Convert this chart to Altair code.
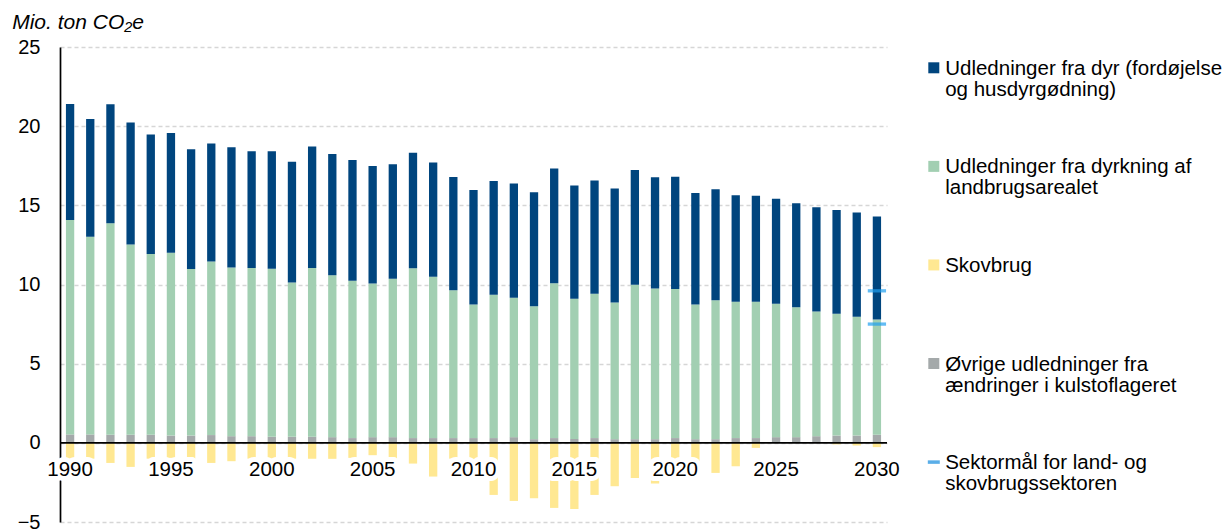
import altair as alt
import pandas as pd

FONT = "Liberation Sans"

years = list(range(1990, 2031))

# Udledninger fra dyr (fordøjelse og husdyrgødning)
dyr = [7.32, 7.43, 7.52, 7.71, 7.55, 7.56, 7.56, 7.45, 7.60, 7.36,
       7.41, 7.62, 7.66, 7.66, 7.64, 7.43, 7.24, 7.29, 7.22, 7.16,
       7.24, 7.17, 7.22, 7.19, 7.24, 7.15, 7.15, 7.20, 7.25, 7.04,
       7.09, 7.05, 7.00, 6.72, 6.70, 6.63, 6.57, 6.58, 6.55, 6.58,
       6.51]
# Udledninger fra dyrkning af landbrugsarealet
dyrkning = [13.55, 12.49, 13.36, 12.01, 11.42, 11.55, 10.52, 10.96, 10.65, 10.63,
            10.62, 9.75, 10.67, 10.22, 9.93, 9.70, 10.00, 10.73, 10.19, 9.33,
            8.43, 9.06, 8.80, 8.40, 9.78, 8.85, 9.12, 8.63, 9.75, 9.51,
            9.42, 8.50, 8.78, 8.61, 8.61, 8.42, 8.20, 7.88, 7.70, 7.50,
            7.28]
# Skovbrug
skovbrug = [-1.00, -1.00, -1.27, -1.52, -1.00, -0.95, -1.00, -1.27, -1.16, -1.00,
            -1.00, -1.00, -1.01, -1.01, -0.95, -0.78, -1.00, -1.31, -2.13, -1.00,
            -1.10, -3.29, -3.67, -3.50, -4.11, -4.18, -3.29, -2.74, -2.22, -2.57,
            -1.50, -1.30, -1.90, -1.48, -0.32, 0.00, 0.00, 0.00, -0.10, -0.17,
            -0.27]
# Øvrige udledninger fra ændringer i kulstoflageret
ovrige = [0.53, 0.53, 0.51, 0.51, 0.51, 0.46, 0.46, 0.49, 0.42, 0.42,
          0.38, 0.38, 0.38, 0.36, 0.30, 0.36, 0.36, 0.30, 0.30, 0.30,
          0.30, 0.30, 0.36, 0.23, 0.30, 0.25, 0.30, 0.23, 0.23, 0.23,
          0.30, 0.23, 0.23, 0.30, 0.30, 0.36, 0.36, 0.42, 0.46, 0.46,
          0.51]

# Sektormål for land- og skovbrugssektoren (2030)
target_years = [2030, 2030]
target_values = [9.6, 7.5]

label_years = [1990, 1995, 2000, 2005, 2010, 2015, 2020, 2025, 2030]

series_names = [
    "Øvrige udledninger fra ændringer i kulstoflageret",
    "Udledninger fra dyrkning af landbrugsarealet",
    "Udledninger fra dyr (fordøjelse og husdyrgødning)",
    "Skovbrug",
]
series_colors = ["#a4a9aa", "#a2cfb2", "#00457e", "#ffe892"]
target_color = "#1f9ff0"

legend_entries = [
    "Udledninger fra dyr (fordøjelse\nog husdyrgødning)",
    "Udledninger fra dyrkning af\nlandbrugsarealet",
    "Skovbrug",
    "Øvrige udledninger fra\nændringer i kulstoflageret",
    "Sektormål for land- og\nskovbrugssektoren",
]
legend_colors = ["#00457e", "#a2cfb2", "#ffe892", "#a4a9aa", "#5aaee8"]
legend_kinds = ["square", "square", "square", "square", "line"]

# ---- tables ----
rows = []
for i, y in enumerate(years):
    for k, (name, vals) in enumerate(zip(series_names, [ovrige, dyrkning, dyr, skovbrug])):
        rows.append({"year": y, "series": name, "value": vals[i], "order": k})
bars_df = pd.DataFrame(rows)

target_df = pd.DataFrame({"year": target_years, "value": target_values})
labels_df = pd.DataFrame({"year": label_years, "label": [str(y) for y in label_years]})
zero_df = pd.DataFrame({"value": [0]})
legend_df = pd.DataFrame({
    "entry": legend_entries,
    "col": legend_colors,
    "kind": legend_kinds,
})

xenc = alt.X("year:O", scale=alt.Scale(paddingInner=0.588, paddingOuter=0.294), axis=None)

bars = alt.Chart(bars_df).mark_bar().encode(
    x=xenc,
    y=alt.Y(
        "value:Q",
        stack="zero",
        scale=alt.Scale(domain=[-5, 25], nice=False, zero=False),
        axis=alt.Axis(
            values=[-5, 0, 5, 10, 15, 20, 25],
            title="Mio. ton CO₂e",
            titleAngle=0,
            titleAlign="left",
            titleBaseline="alphabetic",
            titleX=-48.3,
            titleY=-18.8,
            titleFont=FONT,
            titleFontSize=21,
            titleFontStyle="italic",
            titleFontWeight="normal",
            titleColor="#000000",
            labelFont=FONT,
            labelFontSize=20,
            labelColor="#000000",
            labelPadding=20,
            ticks=False,
            tickSize=0,
            domainColor="#000000",
            domainWidth=1.7,
            gridColor="#d6d6d6",
            gridDash=[4, 3],
            gridWidth=1.3,
        ),
    ),
    color=alt.Color(
        "series:N",
        scale=alt.Scale(domain=series_names, range=series_colors),
        legend=None,
    ),
    order=alt.Order("order:Q"),
)

zero_rule = alt.Chart(zero_df).mark_rule(color="#000000", strokeWidth=1.7).encode(
    y=alt.Y("value:Q")
)

halo = alt.Chart(labels_df).mark_text(
    font=FONT, fontSize=20.5, baseline="middle", align="center", dy=27.5,
    fill="#ffffff", stroke="#ffffff", strokeWidth=10, strokeJoin="round",
).encode(x=xenc, y=alt.datum(0), text="label:N")

year_labels = alt.Chart(labels_df).mark_text(
    font=FONT, fontSize=20.5, baseline="middle", align="center", dy=27.5,
    color="#000000",
).encode(x=xenc, y=alt.datum(0), text="label:N")

targets = alt.Chart(target_df).mark_tick(
    color=target_color, thickness=3.3, size=18.3, orient="horizontal"
).encode(x=xenc, y=alt.Y("value:Q"))

main = alt.layer(bars, zero_rule, halo, year_labels, targets)

legy = alt.Y(
    "entry:N",
    sort=legend_entries,
    scale=alt.Scale(type="point", domain=legend_entries, range=[20.8, 415.1], padding=0),
    axis=None,
)

leg_sq = alt.Chart(legend_df).transform_filter("datum.kind == 'square'").mark_point(
    shape="square", filled=True, size=121, opacity=1
).encode(x=alt.value(873.8), y=legy, color=alt.Color("col:N", scale=None))

leg_line = alt.Chart(legend_df).transform_filter("datum.kind == 'line'").mark_tick(
    orient="horizontal", thickness=3.5, size=12, opacity=1
).encode(x=alt.value(873.8), y=legy, color=alt.Color("col:N", scale=None))

leg_text = alt.Chart(legend_df).mark_text(
    font=FONT, fontSize=20.5, align="left", baseline="top", dy=-9,
    lineHeight=21, lineBreak="\n", color="#000000",
).encode(x=alt.value(885.2), y=legy, text="entry:N")

legend = alt.layer(leg_sq, leg_line, leg_text)

chart = alt.layer(main, legend).resolve_scale(
    y="independent", color="independent"
).properties(
    width=827, height=475,
    padding={"left": 3, "top": 3, "right": 0, "bottom": 0},
).configure_view(stroke=None)

chart.save("out.html", embed_options={"renderer": "svg", "actions": False})
